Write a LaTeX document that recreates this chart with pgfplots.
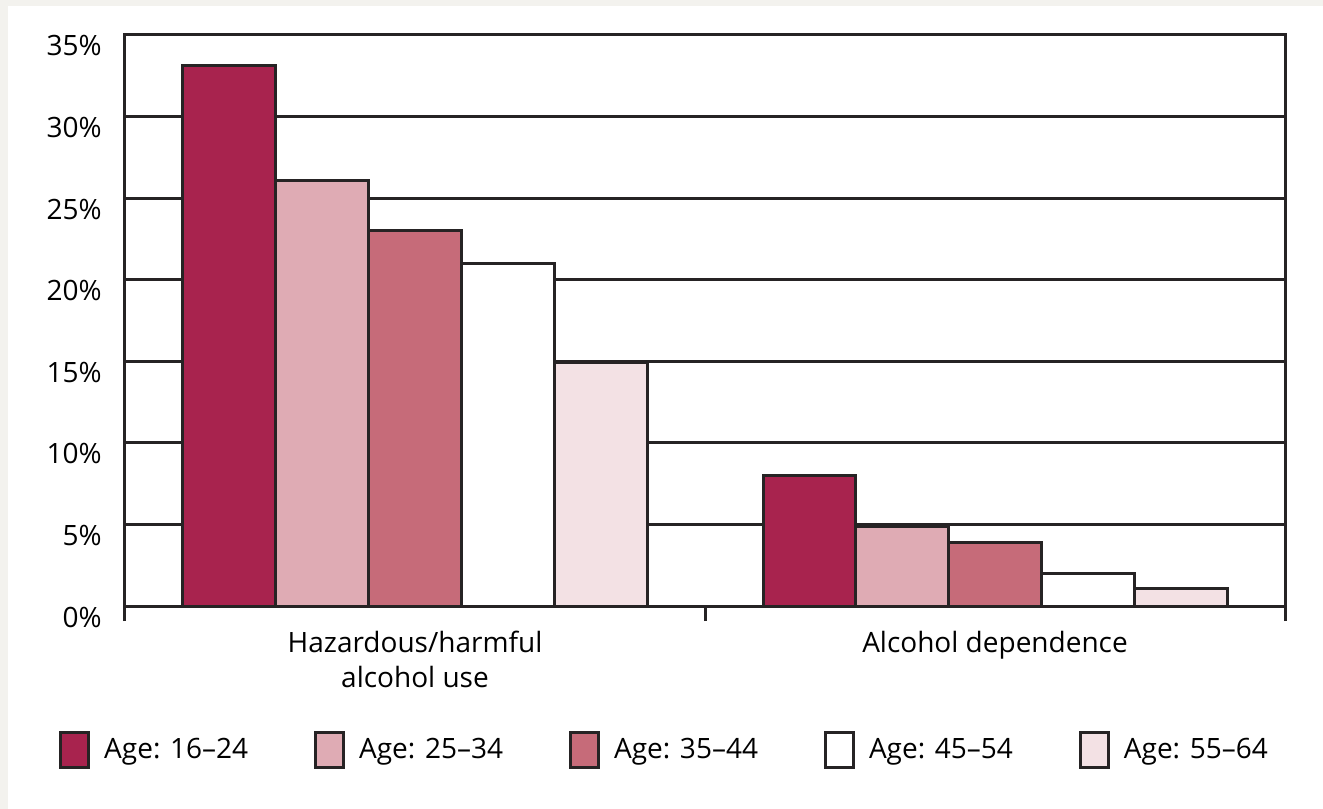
\documentclass[border=0pt]{standalone}
\usepackage{pgfplots}
\pgfplotsset{compat=1.18}
\usepackage{fontspec}
\setmainfont{Open Sans}
\definecolor{c1}{HTML}{A8234E}
\definecolor{c2}{HTML}{DFABB4}
\definecolor{c3}{HTML}{C66B79}
\definecolor{c4}{HTML}{FFFFFF}
\definecolor{c5}{HTML}{F3E1E4}
\definecolor{edge}{HTML}{262324}
\definecolor{bgstrip}{HTML}{F3F2EE}
\newcommand{\lblfont}{\fontsize{14bp}{17.5bp}\selectfont}
\pgfplotsset{ybar legend/.style={legend image code/.code={\draw[##1, line width=1.5bp, draw=edge] (0bp,-8.75bp) rectangle (14bp,8.75bp);}}}
\begin{document}
\begin{tikzpicture}
\useasboundingbox (-62.5bp,-101.5bp) rectangle (599bp,303bp);
\fill[white] (-62.5bp,-101.5bp) rectangle (599bp,303bp);
\fill[bgstrip] (-62.5bp,-101.5bp) rectangle (-58.5bp,303bp);
\fill[bgstrip] (-62.5bp,300bp) rectangle (599bp,303bp);
\begin{axis}[
  at={(0,0)}, anchor=south west, scale only axis,
  width=580bp, height=285.5bp,
  xmin=-0.5, xmax=1.5, ymin=0, ymax=35,
  ybar=0pt, bar width=0.16,
  axis line style={line width=1.5bp, draw=edge},
  tick pos=left,
  ytick={0,5,...,35},
  yticklabels={0\%,5\%,10\%,15\%,20\%,25\%,30\%,35\%},
  ytick style={draw=none},
  yticklabel style={font=\lblfont, inner sep=0pt, anchor=east, xshift=-4bp, yshift=-5.5bp},
  ymajorgrids, major grid style={line width=1.5bp, draw=edge},
  xtick={-0.5,0.5,1.5}, xticklabels={},
  xtick style={line width=1.5bp, draw=edge},
  tick align=outside, major tick length=7.5bp,
  extra x ticks={0,1},
  extra x tick labels={{Hazardous/harmful\\alcohol use},{Alcohol dependence}},
  extra x tick style={major tick length=0pt, xticklabel style={font=\lblfont, align=center, inner sep=0pt, anchor=north, yshift=-12.5bp}},
  legend columns=5,
  legend style={at={(0.466,-0.2526)}, anchor=center, draw=none, fill=none, font=\lblfont,
    /tikz/every odd column/.style={column sep=5bp},
    /tikz/every even column/.style={column sep=31bp}},
  legend cell align=left,
]
\addplot[fill=c1, draw=edge, line width=1.5bp] coordinates {(0,33.1) (1,8.0)};
\addplot[fill=c2, draw=edge, line width=1.5bp] coordinates {(0,26.1) (1,4.9)};
\addplot[fill=c3, draw=edge, line width=1.5bp] coordinates {(0,23.0) (1,3.9)};
\addplot[fill=c4, draw=edge, line width=1.5bp] coordinates {(0,21.0) (1,2.0)};
\addplot[fill=c5, draw=edge, line width=1.5bp] coordinates {(0,14.9) (1,1.1)};
\legend{Age: 16–24, Age: 25–34, Age: 35–44, Age: 45–54, Age: 55–64}
\end{axis}
\end{tikzpicture}
\end{document}
